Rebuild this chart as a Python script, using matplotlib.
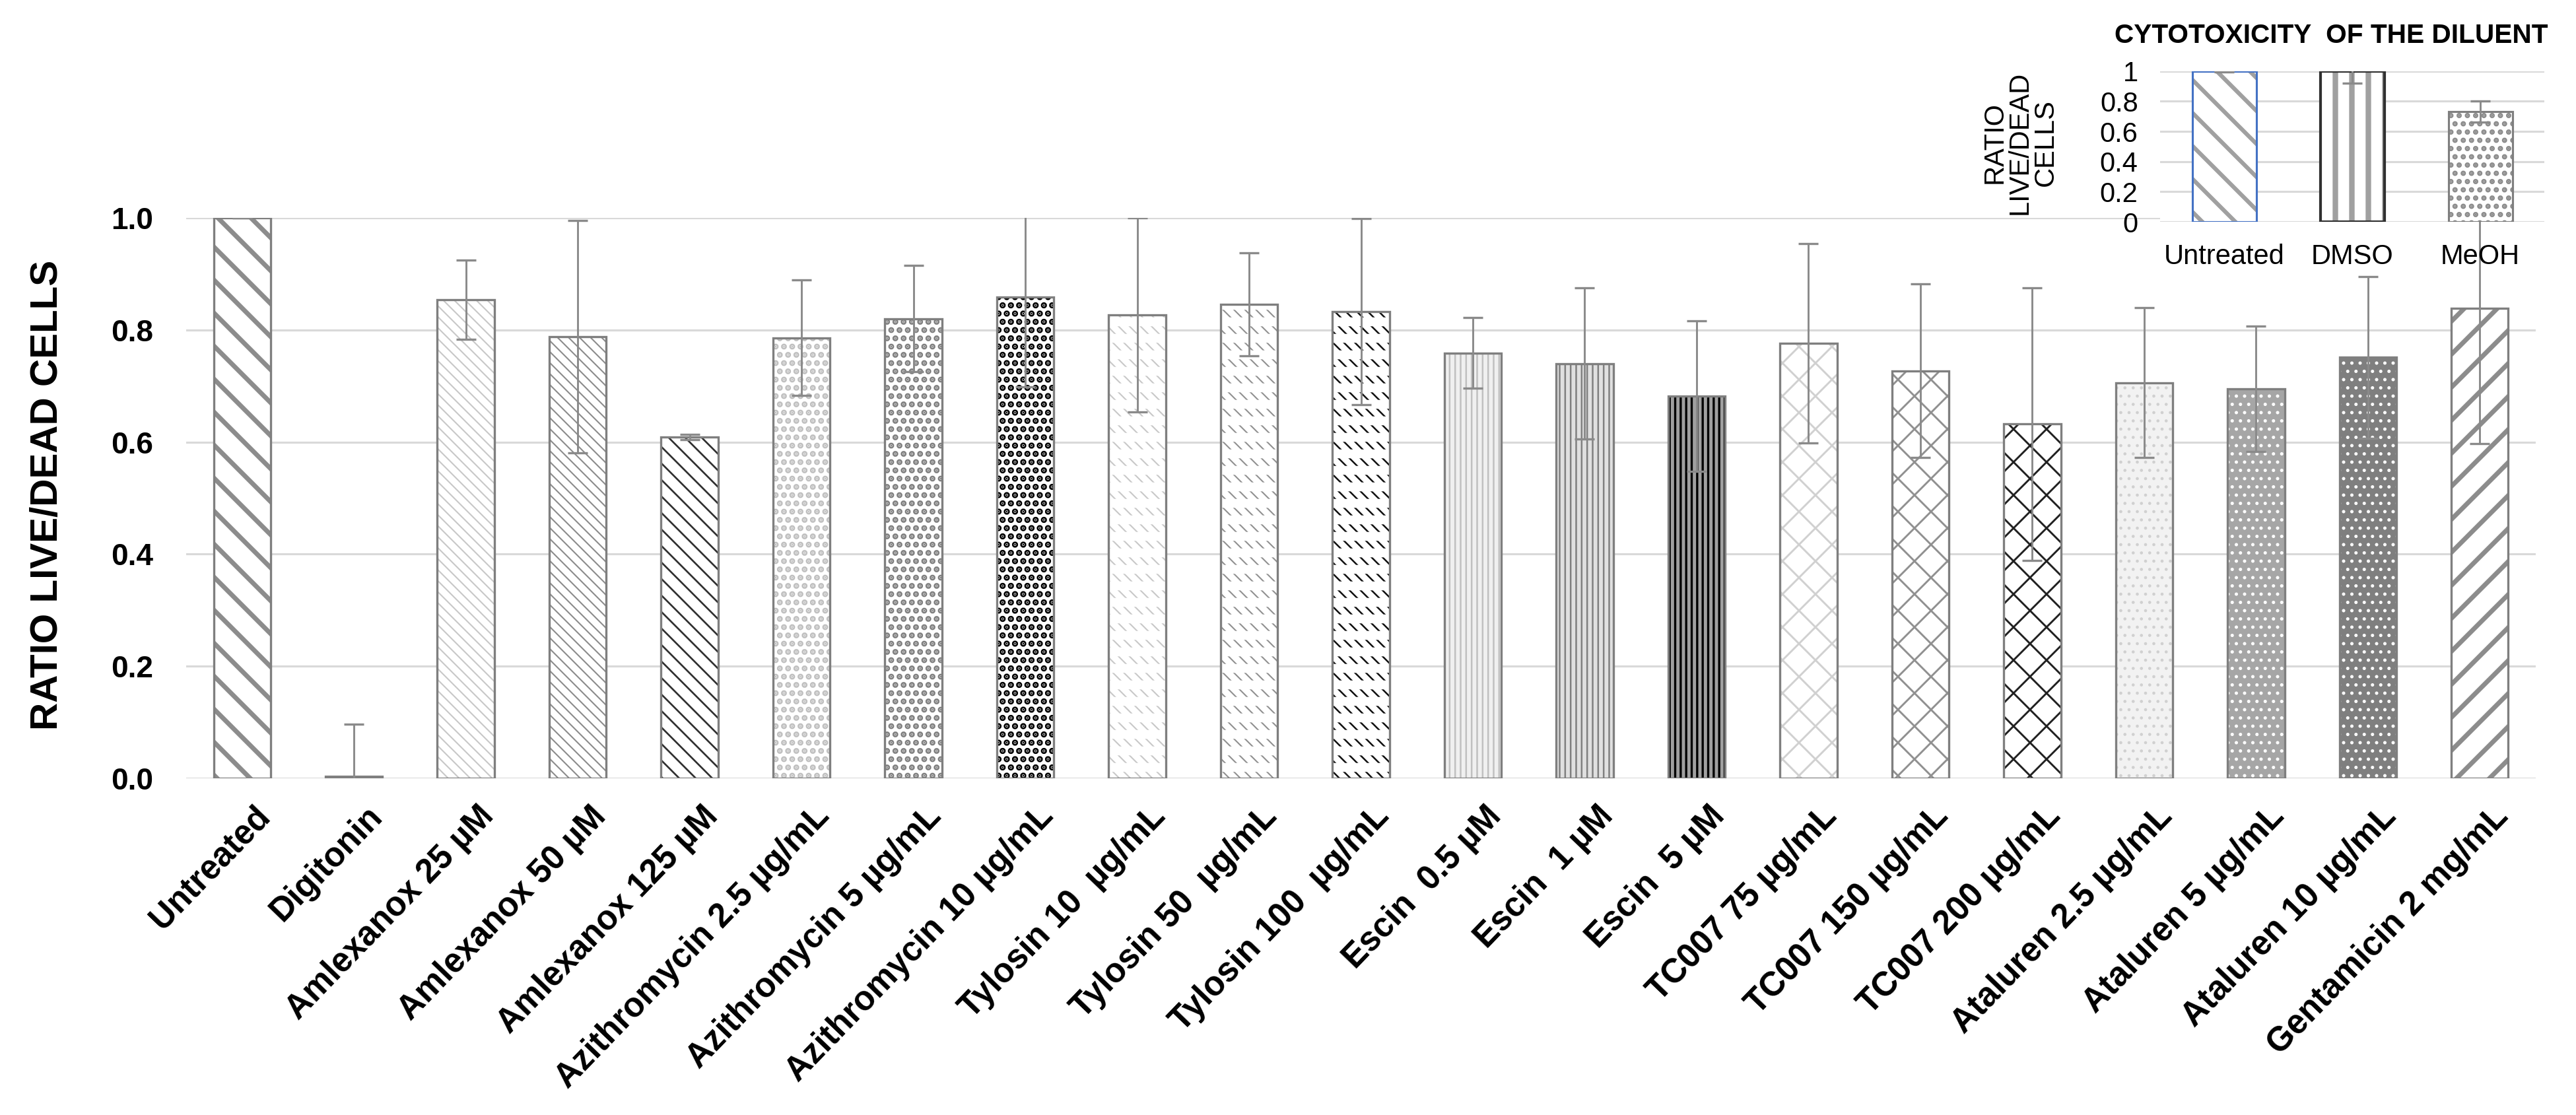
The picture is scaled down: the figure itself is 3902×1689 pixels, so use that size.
import matplotlib
matplotlib.use("Agg")
import matplotlib.pyplot as plt
from matplotlib.transforms import ScaledTranslation
import numpy as np

# data
CATEGORIES = ["Untreated", "Digitonin", "Amlexanox 25 µM", "Amlexanox 50 µM",
              "Amlexanox 125 µM", "Azithromycin 2.5 µg/mL", "Azithromycin 5 µg/mL",
              "Azithromycin 10 µg/mL", "Tylosin 10  µg/mL", "Tylosin 50  µg/mL",
              "Tylosin 100  µg/mL", "Escin  0.5 µM", "Escin  1 µM", "Escin  5 µM",
              "TC007 75 µg/mL", "TC007 150 µg/mL", "TC007 200 µg/mL",
              "Ataluren 2.5 µg/mL", "Ataluren 5 µg/mL", "Ataluren 10 µg/mL",
              "Gentamicin 2 mg/mL"]
RATIO = [1.0, 0.004, 0.854, 0.788, 0.609, 0.786, 0.820, 0.859, 0.827, 0.846,
         0.833, 0.759, 0.740, 0.682, 0.776, 0.727, 0.632, 0.706, 0.695, 0.751, 0.839]
ERR = [0.0, 0.093, 0.071, 0.207, 0.005, 0.103, 0.095, 0.16, 0.173, 0.092,
       0.166, 0.063, 0.135, 0.134, 0.178, 0.155, 0.243, 0.134, 0.112, 0.144, 0.242]

DILUENTS = ["Untreated", "DMSO", "MeOH"]
DIL_RATIO = [1.0, 1.0, 0.731]
DIL_ERR = [0.005, 0.08, 0.07]

# (face, hatch, hatch colour, hatch lw, dashed)
STYLES = [
    ("white", "\\", "#8c8c8c", 3.4, False),
    ("white", "\\", "#8c8c8c", 3.0, False),
    ("white", "\\\\\\", "#c8c8c8", 1.0, False),
    ("white", "\\\\\\", "#8c8c8c", 1.0, False),
    ("white", "\\\\", "#303030", 1.3, False),
    ("white", "..", "#c0c0c0", 3.0, False),
    ("white", "..", "#808080", 3.0, False),
    ("white", "..", "#000000", 3.2, False),
    ("white", "\\\\\\", "#c8c8c8", 1.0, True),
    ("white", "\\\\\\", "#909090", 1.0, True),
    ("white", "\\\\\\", "#101010", 1.2, True),
    ("#f0f0f0", "|||", "#c0c0c0", 1.2, False),
    ("#e0e0e0", "|||", "#808080", 1.2, False),
    ("#a0a0a0", "|||", "#000000", 1.6, False),
    ("white", "x", "#d0d0d0", 1.4, False),
    ("white", "x", "#909090", 1.4, False),
    ("white", "x", "#202020", 1.4, False),
    ("#f2f2f2", "..", "#d0d0d0", 1.0, False),
    ("#a6a6a6", "..", "white", 1.2, False),
    ("#7f7f7f", "..", "white", 1.2, False),
    ("white", "/", "#8c8c8c", 3.4, False),
]

EDGE = "#7f7f7f"
ARIAL = ["Liberation Sans", "DejaVu Sans"]


def hatched_bar(ax, x, h, width, face, hatch, hcolor, hlw, edge, elw, dashed=False):
    with plt.rc_context({"hatch.linewidth": hlw}):
        b = ax.bar(x, h, width, color=face, edgecolor=hcolor, linewidth=0, hatch=hatch, zorder=2)
    for p in b:
        if hasattr(p, "set_hatch_linewidth"):
            p.set_hatch_linewidth(hlw)
    if dashed:
        with plt.rc_context({"hatch.linewidth": 6.5}):
            b2 = ax.bar(x, h, width, color="none", edgecolor="white", linewidth=0, hatch="-", zorder=2.5)
        for p in b2:
            if hasattr(p, "set_hatch_linewidth"):
                p.set_hatch_linewidth(6.5)
    ax.bar(x, h, width, color="none", edgecolor=edge, linewidth=elw, zorder=3)


W, H, DPI = 3902, 1689, 150
fig = plt.figure(figsize=(W / DPI, H / DPI), dpi=DPI)

ax = fig.add_axes([282 / W, 1 - 1179 / H, (3841 - 282) / W, (1179 - 330) / H])
x = np.arange(len(CATEGORIES))
for i in x:
    face, hatch, hc, hlw, dashed = STYLES[i]
    hatched_bar(ax, i, RATIO[i], 0.51, face, hatch, hc, hlw, EDGE, 1.6, dashed)
ax.errorbar(x, RATIO, yerr=ERR, fmt="none", ecolor="#8a8a8a", elinewidth=1.4,
            capsize=7, capthick=1.6, zorder=4)

ax.set_xlim(-0.5, len(CATEGORIES) - 0.5)
ax.set_ylim(0, 1.0)
ax.set_yticks(np.arange(0, 1.01, 0.2))
ax.set_yticklabels([f"{v:.1f}" for v in np.arange(0, 1.01, 0.2)],
                   fontsize=22, fontweight="bold", family=ARIAL)
ax.set_xticks(x)
ax.set_xticklabels(CATEGORIES, rotation=46, ha="right", va="center",
                   rotation_mode="anchor", fontsize=24.5, fontweight="bold", family=ARIAL)
ax.tick_params(axis="both", length=0)
ax.tick_params(axis="y", pad=24)
ax.tick_params(axis="x", pad=24)
offset = ScaledTranslation(35 / DPI, 0, fig.dpi_scale_trans)
for lbl in ax.get_xticklabels():
    lbl.set_transform(lbl.get_transform() + offset)
for s in ax.spines.values():
    s.set_visible(False)
ax.yaxis.grid(True, color="#d9d9d9", linewidth=1.5)
ax.set_axisbelow(True)

fig.text(72 / W, 1 - 750 / H, "RATIO LIVE/DEAD CELLS", rotation=90, ha="center",
         va="center", fontsize=28, fontweight="bold", family=ARIAL)

# inset: cytotoxicity of the diluent
ins = fig.add_axes([3272 / W, 1 - 336 / H, (3854 - 3272) / W, (336 - 107.7) / H])
ins.set_facecolor("white")
hatched_bar(ins, 0, DIL_RATIO[0], 0.5, "white", "\\", "#a0a0a0", 3.0, "#4472c4", 1.5)
hatched_bar(ins, 1, DIL_RATIO[1], 0.5, "white", "|", "#a0a0a0", 4.0, "#303030", 2.0)
hatched_bar(ins, 2, DIL_RATIO[2], 0.5, "white", "..", "#8c8c8c", 2.6, EDGE, 1.5)
ins.errorbar(np.arange(3), DIL_RATIO, yerr=DIL_ERR, fmt="none", ecolor="#8a8a8a",
             elinewidth=1.4, capsize=7, capthick=1.6, zorder=4)
ins.set_xlim(-0.5, 2.5)
ins.set_ylim(0, 1.0)
ins.set_yticks(np.arange(0, 1.01, 0.2))
ins.set_yticklabels(["0", "0.2", "0.4", "0.6", "0.8", "1"], fontsize=20, family=ARIAL)
ins.set_xticks(np.arange(3))
ins.set_xticklabels(DILUENTS, fontsize=20, family=ARIAL)
ins.tick_params(axis="both", length=0)
ins.tick_params(axis="y", pad=16)
ins.tick_params(axis="x", pad=16)
for s in ins.spines.values():
    s.set_visible(False)
ins.yaxis.grid(True, color="#d9d9d9", linewidth=1.5)
ins.set_axisbelow(True)

fig.text(3060 / W, 1 - 216 / H, "RATIO\nLIVE/DEAD\nCELLS", rotation=90, ha="center",
         va="center", multialignment="center", fontsize=20, linespacing=0.95, family=ARIAL)
fig.text(3531 / W, 1 - 54 / H, "CYTOTOXICITY  OF THE DILUENT", ha="center", va="center",
         fontsize=19.5, fontweight="bold", family=ARIAL)

fig.savefig("out.png", dpi=DPI, facecolor="white")
